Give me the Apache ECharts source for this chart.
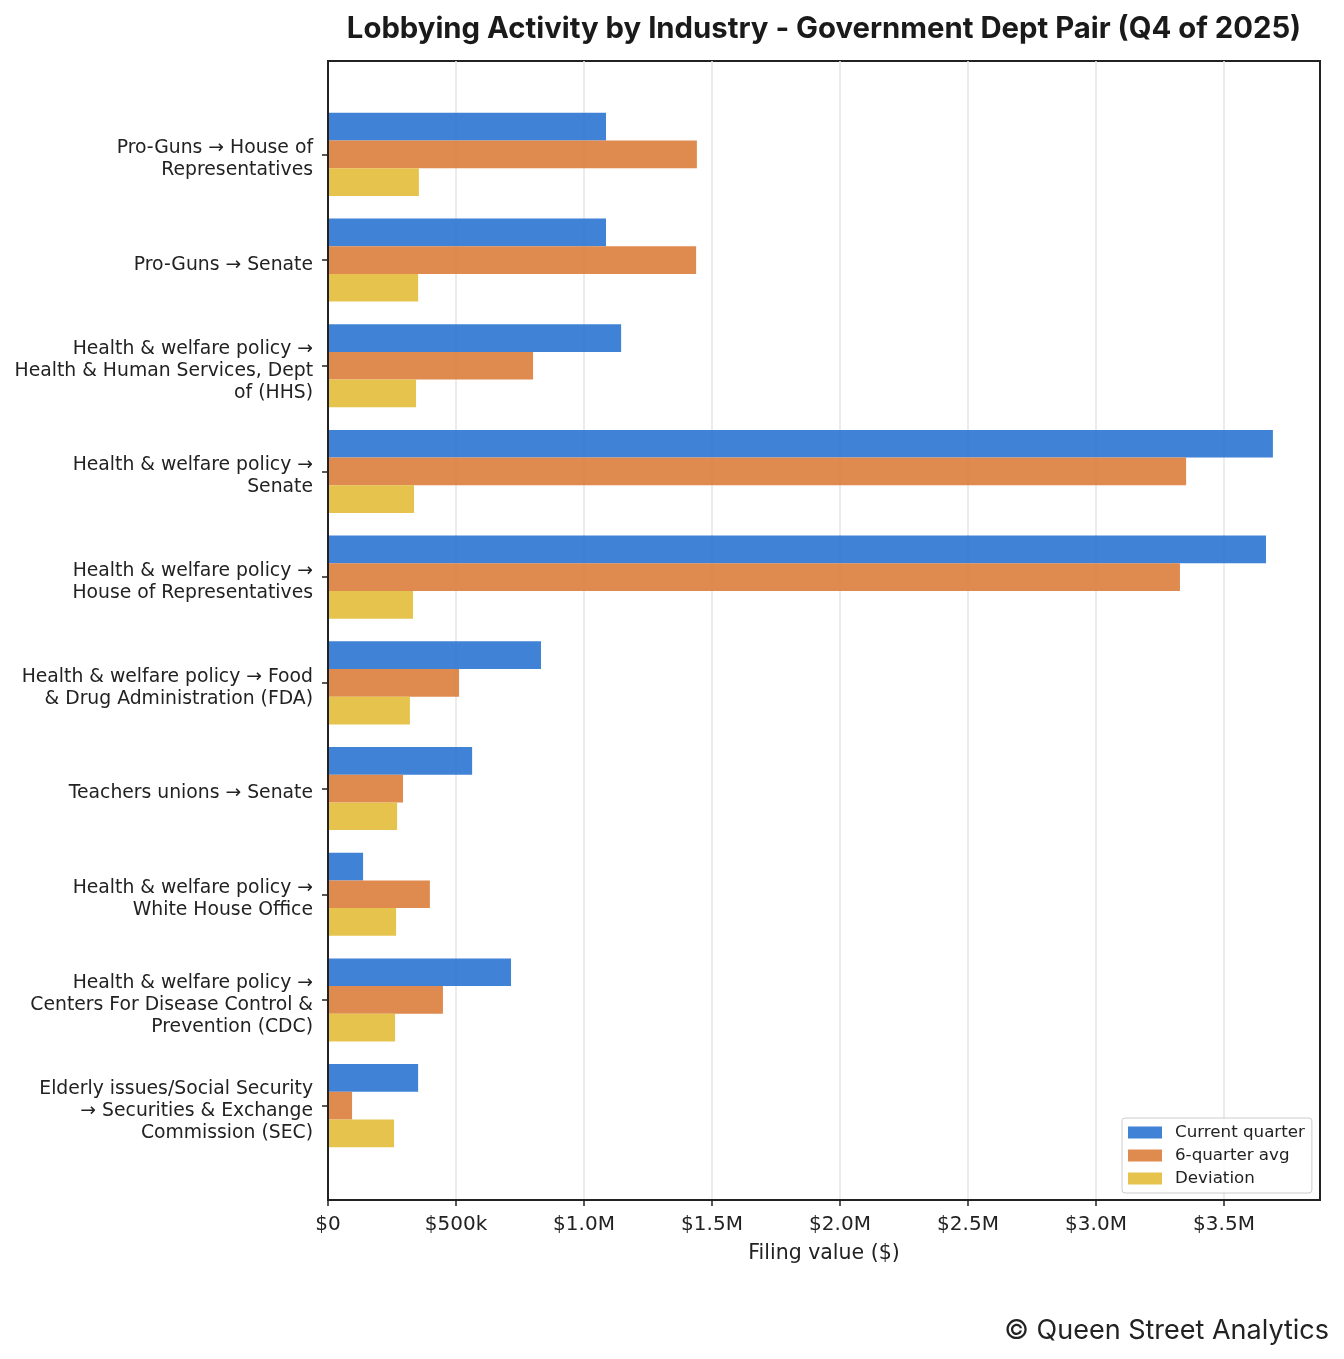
<!DOCTYPE html>
<html>
<head>
<meta charset="utf-8">
<script src="https://cdn.jsdelivr.net/npm/echarts@6/dist/echarts.min.js"></script>
<style>
html,body{margin:0;padding:0;background:#fff;}
#chart{width:1344px;height:1359px;}
</style>
</head>
<body>
<div id="chart"></div>
<script>
const titleText = 'Lobbying Activity by Industry - Government Dept Pair (Q4 of 2025)';
const footerText = '© Queen Street Analytics';
const xAxisName = 'Filing value ($)';
const seriesNames = ['Current quarter', '6-quarter avg', 'Deviation'];
const seriesColors = ['#2a74d2', '#dc7d3c', '#e3bd38'];

const categories = [
  'Pro-Guns → House of Representatives',
  'Pro-Guns → Senate',
  'Health & welfare policy → Health & Human Services, Dept of (HHS)',
  'Health & welfare policy → Senate',
  'Health & welfare policy → House of Representatives',
  'Health & welfare policy → Food & Drug Administration (FDA)',
  'Teachers unions → Senate',
  'Health & welfare policy → White House Office',
  'Health & welfare policy → Centers For Disease Control & Prevention (CDC)',
  'Elderly issues/Social Security → Securities & Exchange Commission (SEC)'
];
const currentQuarter = [1086000, 1086000, 1145000, 3691000, 3664000, 832000, 563000, 137000, 715000, 352000];
const sixQuarterAvg = [1441000, 1438000, 801000, 3352000, 3328000, 512000, 293000, 398000, 449000, 94000];
const deviation = [355000, 352000, 344000, 336000, 332000, 320000, 270000, 266000, 262000, 258000];

const xTickValues = [0, 500000, 1000000, 1500000, 2000000, 2500000, 3000000, 3500000];
const xTickLabels = ['$0', '$500k', '$1.0M', '$1.5M', '$2.0M', '$2.5M', '$3.0M', '$3.5M'];
const xMax = 3875000;

function wrap(text, width) {
  const words = text.split(' ');
  const lines = [];
  let cur = '';
  for (const w of words) {
    if (cur === '') cur = w;
    else if ((cur + ' ' + w).length <= width) cur += ' ' + w;
    else { lines.push(cur); cur = w; }
  }
  if (cur) lines.push(cur);
  return lines.join('\n');
}

const chart = echarts.init(document.getElementById('chart'), null, {renderer: 'canvas'});
const seriesData = [currentQuarter, sixQuarterAvg, deviation];

const option = {
  backgroundColor: '#ffffff',
  animation: false,
  title: [{
    text: titleText,
    left: 819,
    textAlign: 'center',
    top: 7,
    textStyle: {fontFamily: 'Inter', fontWeight: 'bold', fontSize: 29.3, color: '#1a1a1a', lineHeight: 34}
  }, {
    text: footerText,
    right: 10,
    top: 1311,
    textStyle: {fontFamily: 'Inter', fontWeight: 'normal', fontSize: 27, color: '#222', lineHeight: 30}
  }],
  legend: {
    orient: 'vertical',
    left: 1122,
    top: 1118,
    data: seriesNames,
    itemWidth: 34,
    itemHeight: 12,
    itemGap: 6,
    padding: [6, 7, 6, 6],
    borderColor: '#cccccc',
    borderWidth: 1,
    borderRadius: 3,
    backgroundColor: 'rgba(255,255,255,0.8)',
    icon: 'rect',
    textStyle: {fontFamily: 'DejaVu Sans', fontSize: 16.7, color: '#222', padding: [0, 0, 0, 8], lineHeight: 17},
    z: 20
  },
  grid: [
    {left: 328, top: 61, width: 992, height: 1139, show: true, borderColor: '#222', borderWidth: 2, backgroundColor: 'transparent'},
    {left: 328, top: 101.5, width: 992, height: 1057},
    {left: 328, top: 106.5, width: 992, height: 1057}
  ],
  xAxis: [{
    gridIndex: 0,
    type: 'value',
    min: 0,
    max: xMax,
    interval: 500000,
    name: xAxisName,
    nameLocation: 'middle',
    nameGap: 43,
    nameTextStyle: {fontFamily: 'DejaVu Sans', fontSize: 20.5, color: '#222'},
    axisLine: {show: true, lineStyle: {color: '#222', width: 2}},
    axisTick: {show: true, length: 6, lineStyle: {color: '#222', width: 1.5}, customValues: xTickValues},
    axisLabel: {
      show: true, margin: 15, fontFamily: 'DejaVu Sans', fontSize: 20, color: '#222',
      customValues: xTickValues,
      formatter: function (v) { const i = xTickValues.indexOf(v); return i >= 0 ? xTickLabels[i] : ''; }
    },
    splitLine: {show: true, lineStyle: {color: '#e6e6e6', width: 1.5}}
  }, {
    gridIndex: 1,
    type: 'value',
    min: 0,
    max: xMax,
    show: false,
    splitLine: {show: false}
  }, {
    gridIndex: 2,
    type: 'value',
    min: 0,
    max: xMax,
    show: false,
    splitLine: {show: false}
  }],
  yAxis: [{
    gridIndex: 0,
    type: 'value',
    min: 0,
    max: 1,
    z: 10,
    axisLine: {show: true, lineStyle: {color: '#222', width: 2}},
    axisTick: {show: false},
    axisLabel: {show: false},
    splitLine: {show: false}
  }, {
    gridIndex: 1,
    type: 'category',
    inverse: true,
    data: categories,
    axisLine: {show: false},
    axisTick: {show: true, alignWithLabel: true, length: 6, lineStyle: {color: '#222', width: 1.5}},
    axisLabel: {show: false},
    splitLine: {show: false}
  }, {
    gridIndex: 2,
    type: 'category',
    inverse: true,
    data: categories,
    axisLine: {show: false},
    axisTick: {show: false},
    axisLabel: {
      margin: 15, fontFamily: 'DejaVu Sans', fontSize: 18.8, color: '#222', lineHeight: 22, align: 'right',
      formatter: function (v) { return wrap(v, 30); }
    },
    splitLine: {show: false}
  }],
  series: seriesNames.map(function (name, i) {
    return {
      name: name,
      type: 'bar',
      xAxisIndex: 1,
      yAxisIndex: 1,
      data: seriesData[i],
      barWidth: 27.7,
      barGap: '0%',
      itemStyle: {color: seriesColors[i], opacity: 0.9}
    };
  })
};
chart.setOption(option);
</script>
</body>
</html>
